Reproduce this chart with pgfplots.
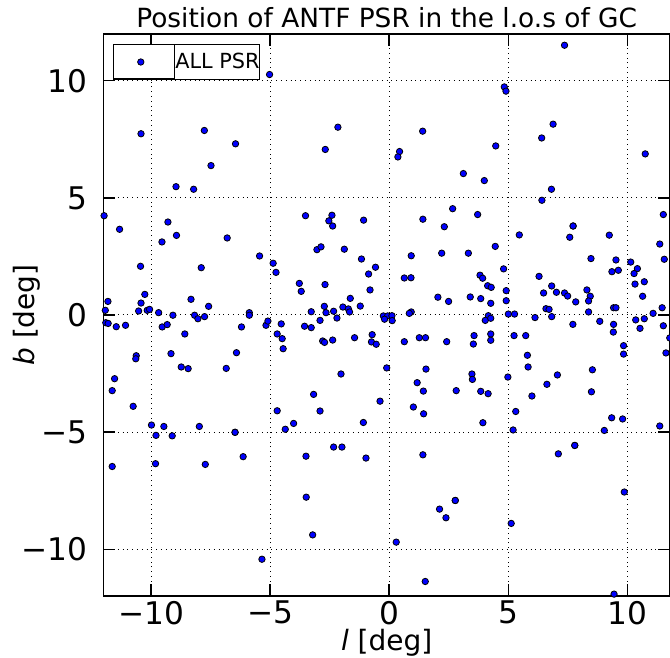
\documentclass[border=0pt]{standalone}
\usepackage{pgfplots}
\pgfplotsset{compat=1.18}
\usepackage{fontspec}
\setmainfont{DejaVu Sans}
\pgfplotstableread{
l b
-5.02 10.27
-10.42 7.74
-7.76 7.88
-6.45 7.31
-7.48 6.38
-2.15 8.02
-2.68 7.07
1.41 7.85
0.44 6.98
0.37 6.75
3.12 6.04
7.37 11.52
4.84 9.74
4.91 9.56
6.89 8.15
6.41 7.56
4.48 7.22
10.76 6.88
-8.95 5.48
-8.21 5.37
-11.97 4.24
-11.32 3.66
-9.29 3.97
-8.93 3.40
-9.54 3.12
-6.80 3.29
-5.44 2.52
-4.87 2.21
-4.75 1.82
-10.44 2.08
-7.89 2.02
-11.81 0.58
-11.92 0.20
-10.26 0.88
-10.42 0.51
-10.52 0.17
-10.16 0.20
-10.06 0.24
-9.68 0.10
-8.32 0.67
-7.58 0.37
-5.87 0.10
4.00 5.74
-3.51 4.24
-2.40 4.26
-2.53 4.02
-2.37 3.80
-1.07 4.05
2.67 4.54
1.42 4.09
2.32 3.77
3.72 4.29
-3.03 2.79
-2.86 2.91
-1.88 2.81
-1.16 2.39
-0.57 2.04
-0.86 1.75
0.93 2.53
2.21 2.64
3.33 2.64
-3.77 1.35
-3.69 1.01
-2.69 1.30
-0.80 1.07
-1.63 0.71
-2.72 0.37
-1.94 0.34
-1.71 0.26
-1.21 0.38
-3.27 0.14
-2.65 0.10
-2.33 0.16
-1.66 0.13
0.64 1.58
0.92 1.59
2.05 0.76
2.50 0.58
3.41 0.77
3.85 0.70
3.82 1.70
3.93 1.57
0.93 0.13
0.85 0.07
6.82 5.37
6.42 4.90
11.52 4.29
7.73 3.80
7.73 3.80
5.47 3.42
7.59 3.32
9.25 3.41
4.46 2.93
11.37 3.03
8.48 2.41
9.53 2.35
11.56 2.38
10.15 2.26
10.43 1.98
10.29 1.77
9.36 1.85
9.63 1.91
4.81 1.97
6.30 1.65
10.72 1.42
10.33 1.32
4.14 1.25
4.29 1.18
4.27 0.50
4.92 1.04
4.92 0.61
6.83 1.24
6.49 0.94
7.03 0.97
7.37 0.94
7.50 0.81
7.84 0.56
8.31 1.07
8.45 0.80
8.38 0.60
10.65 0.80
6.59 0.27
6.72 0.24
9.43 0.31
9.53 0.31
11.47 0.31
8.38 0.13
11.09 0.07
-9.08 -0.01
-8.17 -0.01
-8.03 -0.16
-7.75 -0.07
-5.87 -0.01
-11.90 -0.33
-11.80 -0.36
-11.46 -0.50
-11.07 -0.44
-9.53 -0.51
-9.32 -0.41
-8.58 -0.81
-6.20 -0.51
-5.17 -0.44
-5.09 -0.26
-4.53 -0.38
-4.70 -0.81
-4.49 -1.01
-4.45 -1.44
-9.16 -1.65
-10.62 -1.74
-10.64 -1.87
-6.41 -1.61
-8.73 -2.22
-8.44 -2.29
-6.84 -2.28
-11.53 -2.72
-11.63 -3.23
-10.75 -3.90
-4.70 -4.09
-4.01 -4.63
-9.98 -4.70
-9.46 -4.76
-7.97 -4.76
-9.79 -5.14
-9.11 -5.16
-6.47 -5.01
-6.47 -5.01
-4.36 -4.88
-0.24 -0.04
-0.06 -0.04
0.12 -0.03
-0.19 -0.18
0.13 -0.24
-3.55 -0.48
-3.27 -0.54
-2.90 -0.23
-2.19 -0.13
-2.79 -1.11
-2.71 -1.17
-2.37 -1.07
-1.45 -0.97
-0.71 -0.84
-0.74 -1.15
-0.54 -1.25
0.64 -1.14
1.27 -0.97
1.53 -0.97
2.42 -1.14
3.57 -0.88
3.54 -1.24
-2.02 -2.52
-0.10 -2.26
1.55 -2.31
3.48 -2.52
3.50 -2.75
1.18 -2.89
1.44 -3.25
2.82 -3.23
3.85 -3.26
-3.17 -3.39
-2.90 -4.10
-0.38 -3.68
1.02 -3.93
1.45 -4.22
-1.08 -4.59
3.94 -4.60
-2.33 -5.64
-1.98 -5.64
4.17 -0.03
4.04 -0.23
4.27 -0.14
5.01 0.04
5.27 0.04
6.13 -0.11
6.83 -0.07
7.72 -0.40
8.85 -0.27
9.43 -0.40
9.42 -0.73
10.36 -0.21
10.72 -0.16
10.54 -0.57
11.52 -0.46
11.79 -0.98
4.27 -0.81
4.27 -1.08
5.25 -0.88
5.74 -0.88
9.85 -1.31
9.85 -1.67
11.63 -1.62
5.81 -1.72
5.84 -2.22
4.99 -2.65
7.07 -2.56
8.54 -2.34
6.63 -2.96
8.50 -3.28
4.16 -3.36
6.00 -3.46
5.32 -4.12
9.35 -4.39
9.81 -4.44
11.37 -4.74
5.21 -4.91
9.04 -4.93
7.80 -5.57
7.80 -5.57
7.11 -5.93
-11.63 -6.47
-9.81 -6.35
-7.72 -6.38
-6.13 -6.05
-5.34 -10.43
-3.49 -6.03
-0.97 -6.11
1.42 -5.97
-3.48 -7.78
-3.21 -9.39
0.30 -9.70
2.12 -8.29
2.39 -8.66
2.78 -7.92
2.78 -7.92
1.52 -11.38
5.13 -8.90
9.88 -7.56
9.45 -11.92
}\psrdata
\begin{document}
\begin{tikzpicture}
\begin{axis}[
  at={(0,0)}, anchor=south west,
  scale only axis, width=283.3pt, height=281pt,
  xmin=-12, xmax=11.8, ymin=-12, ymax=12,
  xtick={-10,-5,0,5,10}, ytick={-10,-5,0,5,10},
  xticklabels={−10,−5,0,5,10}, yticklabels={−10,−5,0,5,10},
  tick label style={font=\fontsize{15.6}{15.6}\selectfont},
  yticklabel style={xshift=-4.5pt},
  xticklabel style={yshift=1pt},
  tick align=inside, major tick length=6pt,
  tick style={black, line width=0.6pt},
  axis line style={line width=0.6pt},
  xtick pos=both, ytick pos=both,
  grid=major, grid style={black, dotted, line width=0.5pt},
  title={Position of ANTF PSR in the l.o.s of GC},
  every axis title/.style={font=\fontsize{13.2}{14}\selectfont, at={(axis description cs:0.5,1.0107)}, anchor=base},
  xlabel={\textit{l} [deg]}, ylabel={\textit{b} [deg]},
  every axis x label/.style={font=\fontsize{14}{14}\selectfont, at={(axis description cs:0.5,-0.097)}, anchor=base},
  every axis y label/.style={font=\fontsize{14}{14}\selectfont, rotate=90, at={(axis description cs:-0.122,0.5)}, anchor=base},
  legend style={at={(axis description cs:0,1)}, anchor=north west, xshift=4.7pt, yshift=-5pt,
    draw=black, line width=0.5pt, inner xsep=0pt, inner ysep=0pt,
    font=\fontsize{10.4}{11}\selectfont, nodes={inner sep=0pt}},
  legend image code/.code={\path (-13.5pt,-8.5pt) rectangle (17pt,8.5pt);
     \draw[#1] plot coordinates {(0pt,0pt)};},
]
\addplot[only marks, mark=*, mark size=1.6pt,
  mark options={fill=blue, draw=black, line width=0.4pt}] table[x=l, y=b] {\psrdata};
\legend{ALL PSR\hspace{4pt}}
\end{axis}
\pgfresetboundingbox
\path (-51.7pt,-31pt) rectangle (283.3pt,298pt);
\end{tikzpicture}
\end{document}
